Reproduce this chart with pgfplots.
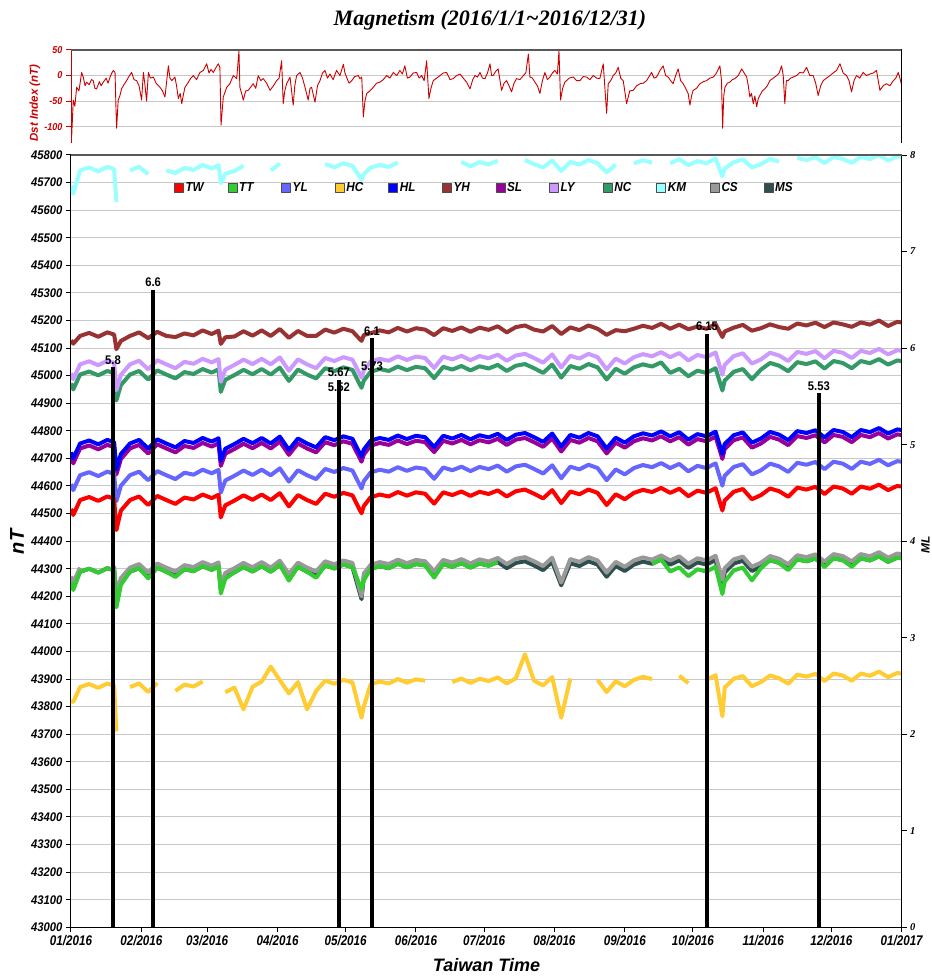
\documentclass[border=0pt]{standalone}
\usepackage{fontspec}
\setmainfont{Liberation Serif}
\newfontfamily\arial{Liberation Sans}
\newfontfamily\xnarrow[FakeStretch=0.83]{Liberation Sans}
\newfontfamily\ynarrow[FakeStretch=0.9]{Liberation Sans}
\usepackage{pgfplots}
\usepackage{pgfplotstable}
\pgfplotsset{compat=1.18}

\definecolor{cTW}{HTML}{FF0000}
\definecolor{cTT}{HTML}{33CC33}
\definecolor{cYL}{HTML}{6666FF}
\definecolor{cHC}{HTML}{FFCC33}
\definecolor{cHL}{HTML}{0000FF}
\definecolor{cYH}{HTML}{993333}
\definecolor{cSL}{HTML}{990099}
\definecolor{cLY}{HTML}{CC99FF}
\definecolor{cNC}{HTML}{339966}
\definecolor{cKM}{HTML}{99FFFF}
\definecolor{cCS}{HTML}{999999}
\definecolor{cMS}{HTML}{2F4F4F}
\definecolor{dstred}{HTML}{CC0000}
\definecolor{gridgray}{HTML}{C8C8C8}

\pgfplotstableread{
day TW TT YL HC HL YH SL LY NC KM CS MS
0 44517 44250 44607 43820 44722 45128 44704 45009 44972 45690 44272 44257
1 44495 44223 44585 43817 44700 45116 44682 44987 44950 45660 44250 44235
4 44549 44289 44639 43871 44754 45144 44736 45041 45004 45744 44304 44289
8 44560 44300 44650 43882 44765 45155 44747 45052 45015 45755 nan 44300
12 44546 44286 44636 43868 44751 45141 44733 45038 45001 45741 nan 44286
16 44562 44302 44652 43884 44767 45157 44749 45054 45017 45757 nan 44302
19 44554 44294 44644 43876 44759 45149 44741 45046 45009 45749 44309 44294
20 44440 44160 44545 43710 44660 45096 44642 44947 44910 45630 44210 44195
22 44511 44242 44601 nan 44716 45126 44698 45003 44966 nan 44266 44251
26 44549 44289 44639 43871 44754 45144 44736 45041 45004 45744 44304 44289
30 44562 44302 44652 43884 44767 45157 44749 45054 45017 45757 44317 44302
34 44531 44265 44621 43853 44736 45136 44718 45023 44986 45731 44286 44271
38 44564 44304 44654 43886 44769 45159 44751 45056 45019 nan 44319 44304
42 44549 44289 44639 nan 44754 45144 44736 45041 45004 45744 44304 44289
46 44535 44270 44625 43857 44740 45140 44722 45027 44990 45735 44290 44275
50 44558 44298 44648 43880 44763 45153 44745 45050 45013 45753 44313 44298
54 44551 44291 44641 43873 44756 45146 44738 45043 45006 45746 44306 44291
58 44569 44309 44659 43891 44774 45164 44756 45061 45024 45764 44324 44309
62 44556 44296 44646 nan 44761 45151 44743 45048 45011 45751 44311 44296
65 44568 44308 44658 nan 44773 45163 44755 45060 45023 45763 44323 44308
66 44486 44210 44576 nan 44691 45115 44673 44978 44941 45698 44241 44226
68 44530 44264 44620 43852 44735 45139 44717 45022 44985 45732 44285 44270
72 44547 44287 44637 43869 44752 45142 44734 45039 45002 45742 44302 44287
76 44566 44306 44656 43790 44771 45161 44753 45058 45021 45761 44321 44306
80 44550 44290 44640 43872 44755 45145 44737 45042 45005 nan 44305 44290
84 44569 44309 44659 43891 44774 45164 44756 45061 45024 nan 44324 44309
88 44549 44289 44639 43945 44754 45144 44736 45041 45004 45744 44304 44289
92 44574 44314 44664 43896 44779 45169 44761 45066 45029 45769 44329 44314
96 44526 44257 44616 43848 44731 45137 44713 45018 44981 nan 44281 44266
100 44567 44307 44657 43889 44772 45162 44754 45059 45022 nan 44322 44307
104 44549 44289 44639 43790 44754 45144 44736 45041 45004 nan 44304 44289
108 44535 44267 44625 43857 44740 45144 44722 45027 44990 nan 44290 44275
112 44572 44312 44662 43894 44777 45167 44759 45064 45027 45767 44327 44312
116 44561 44301 44651 43883 44766 45156 44748 45053 45016 45756 44316 44301
120 44575 44315 44665 43897 44780 45170 44762 45067 45030 45770 44330 44315
124 44566 44306 44656 43888 44771 45161 44753 45058 45021 45761 44321 44306
128 44501 44226 44591 43760 44706 45126 44688 44993 44956 45711 44200 44190
129 44527 44258 44617 43800 44732 45147 44714 45019 44982 45731 44282 44267
132 44559 44299 44649 43881 44764 45154 44746 45051 45014 45754 44314 44299
136 44569 44309 44659 43891 44774 45164 44756 45061 45024 45764 44324 44309
140 44562 44302 44652 43884 44767 45157 44749 45054 45017 45757 44317 44302
144 44578 44318 44668 43900 44783 45173 44765 45070 45033 45773 44333 44318
148 44565 44305 44655 43887 44770 45160 44752 45057 45020 nan 44320 44305
152 44577 44317 44667 43899 44782 45172 44764 45069 45032 nan 44332 44317
156 44572 44312 44662 43894 44777 45167 44759 45064 45027 nan 44327 44312
160 44536 44268 44626 nan 44741 45147 44723 45028 44991 nan 44291 44276
164 44577 44317 44667 nan 44782 45172 44764 45069 45032 nan 44332 44317
168 44567 44307 44657 43889 44772 45162 44754 45059 45022 nan 44322 44307
172 44580 44320 44670 43902 44785 45175 44767 45072 45035 45775 44335 44320
176 44564 44304 44654 43886 44769 45159 44751 45056 45019 45759 44319 44304
180 44579 44319 44669 43901 44784 45174 44766 45071 45034 45774 44334 44319
184 44571 44311 44661 43893 44776 45166 44758 45063 45026 45766 44326 44311
188 44584 44324 44674 43906 44789 45179 44771 45076 45039 45779 44339 44324
192 44562 nan 44652 43884 44767 45157 44749 45054 45017 nan 44317 44302
196 44581 nan 44671 43903 44786 45176 44768 45073 45036 nan 44336 44321
200 44587 nan 44677 43990 44792 45182 44774 45079 45042 45782 44342 44327
204 44572 nan 44662 43894 44777 45167 44759 45064 45027 45767 44327 44312
208 44555 nan 44645 43877 44760 45160 44742 45047 45010 45755 44310 44295
212 44585 nan 44675 43907 44790 45180 44772 45077 45040 45780 44340 44325
216 44538 nan 44628 43760 44743 45151 44725 45030 44993 45742 44250 44240
220 44580 nan 44670 43902 44785 45175 44767 45072 45035 45775 44335 44320
224 44570 nan 44660 nan 44775 45165 44757 45062 45025 45765 44325 44310
228 44587 nan 44677 nan 44792 45182 44774 45079 45042 45782 44342 44327
232 44575 nan 44665 43897 44780 45170 44762 45067 45030 45770 44330 44315
236 44531 nan 44621 43853 44736 45148 44718 45023 44986 45737 44286 44271
240 44570 nan 44660 43892 44775 45165 44757 45062 45025 45765 44325 44310
244 44552 nan 44642 43874 44757 45161 44739 45044 45007 nan 44307 44292
248 44575 nan 44665 43897 44780 45170 44762 45067 45030 45770 44330 44315
252 44586 nan 44676 43908 44791 45181 44773 45078 45041 45781 44341 44326
256 44578 44318 44668 43900 44783 45173 44765 45070 45033 45773 44333 44318
260 44593 44333 44683 nan 44798 45188 44780 45085 45048 nan 44348 44333
264 44575 44290 44665 nan 44780 45170 44762 45067 45010 45770 44330 44315
268 44590 44305 44680 43912 44795 45185 44777 45082 45025 45785 44345 44330
272 44563 44273 44653 43885 44768 45168 44750 45055 44998 45763 44318 44303
276 44583 44298 44673 nan 44788 45178 44770 45075 45018 45778 44338 44323
280 44575 44290 44665 43897 44780 45170 44762 45067 45010 45770 44330 44315
284 44592 44307 44682 43914 44797 45187 44779 45084 45027 45787 44347 44332
287 44511 44208 44601 43765 44716 45140 44698 45003 44946 45723 44260 44215
288 44547 44253 44637 43869 44752 45160 44734 45039 44982 45751 44302 44287
292 44579 44294 44669 43901 44784 45174 44766 45071 45014 45774 44334 44319
296 44589 44304 44679 43911 44794 45184 44776 45081 45024 45784 44344 44329
300 44552 44258 44642 43874 44757 45163 44739 45044 44987 45755 44307 44292
304 44567 44302 44657 43889 44772 45172 44754 45059 45022 45767 44322 44307
308 44591 44331 44681 43913 44796 45186 44778 45083 45046 45786 44346 44331
312 44581 44321 44671 43903 44786 45176 44768 45073 45036 45776 44336 44321
316 44561 44295 44651 43883 44766 45170 44748 45053 45016 nan 44316 44301
320 44594 44334 44684 43916 44799 45189 44781 45086 45049 45789 44349 44334
324 44587 44327 44677 43909 44792 45182 44774 45079 45042 45782 44342 44327
328 44597 44337 44687 43919 44802 45192 44784 45089 45052 45792 44352 44337
332 44571 44306 44661 43893 44776 45176 44758 45063 45026 45771 44326 44311
336 44598 44338 44688 43920 44803 45193 44785 45090 45053 45793 44353 44338
340 44591 44331 44681 43913 44796 45186 44778 45083 45046 45786 44346 44331
344 44572 44307 44662 43894 44777 45177 44759 45064 45027 45772 44327 44312
348 44598 44338 44688 43920 44803 45193 44785 45090 45053 45793 44353 44338
352 44590 44330 44680 43912 44795 45185 44777 45082 45045 45785 44345 44330
356 44605 44345 44695 43927 44810 45200 44792 45097 45060 45800 44360 44345
360 44585 44325 44675 43907 44790 45180 44772 45077 45040 45780 44340 44325
364 44600 44340 44690 43922 44805 45195 44787 45092 45055 45795 44355 44340
366 44598 44338 44688 43920 44803 45193 44785 45090 45053 45793 44353 44338
}\magdata

\begin{document}
\begin{tikzpicture}
\useasboundingbox (0pt,0pt) rectangle (932pt,978pt);

% ---------------- Dst panel ----------------
\begin{axis}[
  at={(71pt,835pt)}, anchor=south west, scale only axis,
  width=830.7pt, height=93pt,
  xmin=0, xmax=366, ymin=-132, ymax=50,
  axis x line=none, axis y line*=left,
  axis line style={dstred, line width=1pt, -},
  ytick={-100,-50,0,50},
  ymajorgrids, grid style={gridgray, line width=1pt},
  tick align=outside, major tick length=5pt,
  ytick style={dstred, line width=1pt},
  /pgf/number format/assume math mode=true,
  yticklabel style={font={\ynarrow\bfseries\itshape\fontsize{10}{12}\selectfont}, text=dstred},
]
\addplot[color=dstred, line width=0.9pt, line join=round] coordinates {
(0,-60) (0.3,-119) (1.0,-48) (1.7,-60) (2.5,-23) (3.5,-30) (4.7,6) (5.4,-3) (6.2,-20) (6.9,-13) (8.0,-18) (9.0,-8) (9.8,-10) (10.5,-25) (11.3,-26) (12.5,-12) (13.3,-20) (14.2,-13) (15.5,-5) (16.3,-15) (17.2,-3) (18.0,5) (18.6,10) (19.4,6) (19.8,-61) (20.1,-103) (20.8,-48) (21.5,-40) (22.3,-26) (23.3,-18) (24.5,-10) (25.5,-2) (26.7,6) (27.8,-8) (28.9,-10) (30.0,-20) (31.1,-48) (31.9,6) (32.5,-15) (33.3,-50) (34.1,6) (35.0,-5) (36.3,-3) (37.5,-15) (39.2,-23) (40.3,-30) (41.4,-42) (42.9,19) (43.6,-5) (44.4,-10) (45.8,-3) (46.5,-20) (47.3,-45) (48.1,-35) (48.8,-55) (49.5,-38) (50.2,-23) (51.7,-13) (52.8,-5) (53.9,0) (55.3,-8) (56.8,6) (58.3,10) (59.8,23) (60.8,5) (61.7,12) (62.7,6) (63.8,15) (64.9,23) (65.6,16) (66.1,-97) (67.1,-42) (68.6,-23) (70.0,-16) (71.5,0) (73.0,-6) (74.0,48) (74.4,-23) (75.2,-35) (75.9,-48) (77.0,-30) (78.1,-29) (80.3,-16) (81.4,-25) (82.5,0) (83.6,-10) (84.7,-6) (86.2,-15) (87.7,-29) (89.2,-20) (90.6,-10) (91.7,-5) (92.8,29) (93.5,-55) (94.2,-30) (95.0,-16) (96.5,-3) (97.9,-58) (98.6,-20) (99.4,0) (100.9,6) (102.0,-5) (103.1,-23) (104.5,-48) (105.3,-25) (106.0,-23) (107.5,-52) (108.6,-20) (109.7,-10) (110.8,5) (111.9,10) (113.0,-5) (114.1,3) (115.5,-8) (117.0,10) (118.5,0) (120.0,22) (120.7,5) (121.4,-3) (122.5,-15) (123.7,-10) (125.0,-2) (126.6,0) (127.3,-6) (128.1,-3) (128.8,-81) (129.5,-50) (130.3,-35) (131.7,-30) (133.2,-23) (134.6,-15) (136.1,-13) (137.6,-8) (139.1,0) (140.5,-5) (142.0,6) (143.5,0) (144.9,10) (146.0,3) (147.1,19) (148.2,-5) (149.3,-3) (150.8,5) (152.3,6) (153.4,-5) (154.5,0) (155.6,-10) (156.7,29) (157.7,-45) (158.6,-25) (159.6,-10) (161.1,-5) (162.6,0) (164.0,5) (165.5,6) (167.0,-8) (168.4,-6) (169.9,0) (171.4,3) (172.8,-5) (174.3,-13) (175.8,-26) (177.0,-8) (178.0,0) (179.1,-3) (180.2,6) (181.3,-5) (182.4,-6) (183.5,5) (184.6,23) (185.3,0) (186.0,0) (187.1,8) (188.2,13) (189.7,-29) (190.8,-15) (191.9,-10) (193.0,-20) (194.1,-32) (195.2,-15) (196.3,-6) (197.8,-8) (199.3,0) (200.4,5) (201.5,42) (202.2,-3) (203.3,-5) (204.4,-13) (205.5,-20) (206.6,-35) (207.7,-10) (208.8,6) (209.9,-8) (211.0,-3) (212.1,5) (213.2,10) (214.3,3) (215.0,48) (215.7,-48) (216.6,-25) (217.6,-13) (219.5,-5) (221.3,-3) (222.8,-10) (224.2,-10) (225.7,-2) (227.2,-3) (228.6,-8) (230.1,0) (231.6,-5) (233.0,-6) (234.5,23) (236.0,-74) (236.7,-16) (237.8,-10) (238.9,0) (240.0,5) (241.1,16) (242.2,-5) (243.3,-10) (244.8,-55) (246.2,-30) (247.7,-29) (249.2,-20) (250.7,-16) (252.1,-15) (253.6,-10) (254.7,-2) (255.8,6) (256.9,-5) (258.0,-3) (259.5,10) (260.9,19) (262.0,0) (263.1,-3) (264.2,-10) (265.3,-16) (266.4,0) (267.5,13) (268.6,-10) (269.7,-16) (270.8,-25) (271.9,-35) (272.7,-58) (273.4,-40) (274.1,-29) (275.6,-25) (277.1,-16) (278.6,-12) (280.0,-10) (281.5,-5) (283.0,-3) (284.4,5) (285.9,19) (286.6,-10) (287.1,-103) (287.6,-40) (288.1,-23) (289.2,-15) (290.3,-13) (291.4,-8) (292.5,-6) (294.0,0) (295.5,13) (296.6,5) (297.7,-3) (298.4,-20) (299.1,-42) (299.8,-35) (300.6,-55) (301.3,-40) (302.1,-61) (302.8,-45) (303.5,-39) (304.6,-30) (305.7,-26) (306.8,-20) (307.9,-10) (309.4,-5) (310.9,0) (312.0,5) (313.1,19) (313.8,0) (314.5,-55) (315.2,-10) (316.0,-10) (317.1,-5) (318.2,-3) (319.7,0) (321.1,6) (322.6,5) (324.1,16) (325.5,0) (327.0,0) (328.1,-15) (329.2,-39) (330.3,-20) (331.4,-10) (332.9,-5) (334.4,0) (335.8,5) (337.3,10) (338.8,23) (340.2,5) (341.7,0) (342.8,-10) (343.9,-32) (345.0,-10) (346.1,0) (347.5,-5) (349.0,6) (350.5,0) (352.0,3) (353.5,5) (354.9,10) (356.4,-29) (357.8,-20) (359.3,-16) (360.8,-20) (362.3,-10) (363.4,-5) (364.5,6) (365.2,-5) (366.0,-19)
};
\end{axis}

% ---------------- main magnetometer panel ----------------
\begin{axis}[
  at={(71pt,50.7pt)}, anchor=south west, scale only axis,
  width=830.7pt, height=772.3pt,
  xmin=0, xmax=366, ymin=43000, ymax=45800,
  axis x line*=bottom, axis y line*=left,
  axis line style={black, line width=1pt, -},
  xtick={0,31,60,91,121,152,182,213,244,274,305,335,366},
  xticklabels={01/2016,02/2016,03/2016,04/2016,05/2016,06/2016,07/2016,08/2016,09/2016,10/2016,11/2016,12/2016,01/2017},
  ytick={43000,43100,...,45800},
  scaled y ticks=false,
  ymajorgrids, grid style={gridgray, line width=1pt},
  tick align=outside, major tick length=5pt,
  tick style={black, line width=1pt},
  /pgf/number format/assume math mode=true,
  /pgf/number format/1000 sep={},
  /pgf/number format/fixed,
  xticklabel style={font={\xnarrow\bfseries\itshape\fontsize{14}{16}\selectfont}},
  yticklabel style={font={\ynarrow\bfseries\itshape\fontsize{12.5}{14}\selectfont}},
  unbounded coords=jump,
  reverse legend,
  legend columns=12,
  legend cell align=left,
  legend style={at={(0.505,0.9577)}, anchor=center, draw=none, fill=none,
    font={\ynarrow\bfseries\itshape\fontsize{13}{15}\selectfont},
    /tikz/every even column/.append style={column sep=10pt, text width=30pt}},
  legend image code/.code={\filldraw[#1, draw=black!70, line width=0.6pt] (0pt,-4.5pt) rectangle (9pt,4.5pt);},
  every axis plot/.append style={line width=4pt, line join=round},
]
\addplot[color=cMS] table[x=day, y=MS] {\magdata}; \addlegendentry{MS}
\addplot[color=cCS] table[x=day, y=CS] {\magdata}; \addlegendentry{CS}
\addplot[color=cKM] table[x=day, y=KM] {\magdata}; \addlegendentry{KM}
\addplot[color=cNC] table[x=day, y=NC] {\magdata}; \addlegendentry{NC}
\addplot[color=cLY] table[x=day, y=LY] {\magdata}; \addlegendentry{LY}
\addplot[color=cSL] table[x=day, y=SL] {\magdata}; \addlegendentry{SL}
\addplot[color=cYH] table[x=day, y=YH] {\magdata}; \addlegendentry{YH}
\addplot[color=cHL] table[x=day, y=HL] {\magdata}; \addlegendentry{HL}
\addplot[color=cHC] table[x=day, y=HC] {\magdata}; \addlegendentry{HC}
\addplot[color=cYL] table[x=day, y=YL] {\magdata}; \addlegendentry{YL}
\addplot[color=cTT] table[x=day, y=TT] {\magdata}; \addlegendentry{TT}
\addplot[color=cTW] table[x=day, y=TW] {\magdata}; \addlegendentry{TW}
\end{axis}

% ---------------- earthquake magnitude (ML) axis ----------------
\begin{axis}[
  at={(71pt,50.7pt)}, anchor=south west, scale only axis,
  width=830.7pt, height=772.3pt,
  xmin=0, xmax=366, ymin=0, ymax=8,
  axis x line=none, axis y line*=right,
  axis line style={black, line width=1pt, -},
  ytick={0,1,2,3,4,5,6,7,8},
  tick align=outside, major tick length=5pt,
  tick style={black, line width=1pt},
  /pgf/number format/assume math mode=true,
  yticklabel style={font={\bfseries\itshape\fontsize{10.5}{12}\selectfont}},
  clip=false,
]
\addplot[ycomb, black, line width=4.5pt, point meta=explicit symbolic,
  nodes near coords,
  nodes near coords style={font={\ynarrow\bfseries\fontsize{12.5}{14}\selectfont}, anchor=south, inner sep=1pt, text=black}]
  coordinates {
  (18.5,5.8) [5.8]
  (36.2,6.6) [6.6]
  (118.0,5.67) [5.67]
  (118.0,5.52) [5.52]
  (132.6,6.1) [6.1]
  (132.6,5.73) [5.73]
  (280.2,6.15) [6.15]
  (329.5,5.53) [5.53]
};
\end{axis}

% frame lines
\draw[black!65, line width=2pt] (71pt,823pt) -- (901.7pt,823pt);
\draw[black!65, line width=2pt] (71pt,928pt) -- (901.7pt,928pt);
\draw[black, line width=1pt] (901.7pt,835pt) -- (901.7pt,929pt);

% titles and labels
\node[font={\bfseries\itshape\fontsize{22}{26}\selectfont}] at (490pt,958pt) {Magnetism (2016/1/1\char"7E 2016/12/31)};
\node[rotate=90, text=dstred, font={\arial\bfseries\itshape\fontsize{11.5}{13}\selectfont}] at (35pt,875pt) {Dst Index (nT)};
\node[rotate=90, font={\arial\bfseries\itshape\fontsize{20}{24}\selectfont}] at (17pt,436pt) {nT};
\node[rotate=90, font={\arial\bfseries\itshape\fontsize{12}{14}\selectfont}] at (925.5pt,433pt) {ML};
\node[font={\arial\bfseries\itshape\fontsize{18}{21}\selectfont}] at (486.5pt,13pt) {Taiwan Time};
\end{tikzpicture}
\end{document}
